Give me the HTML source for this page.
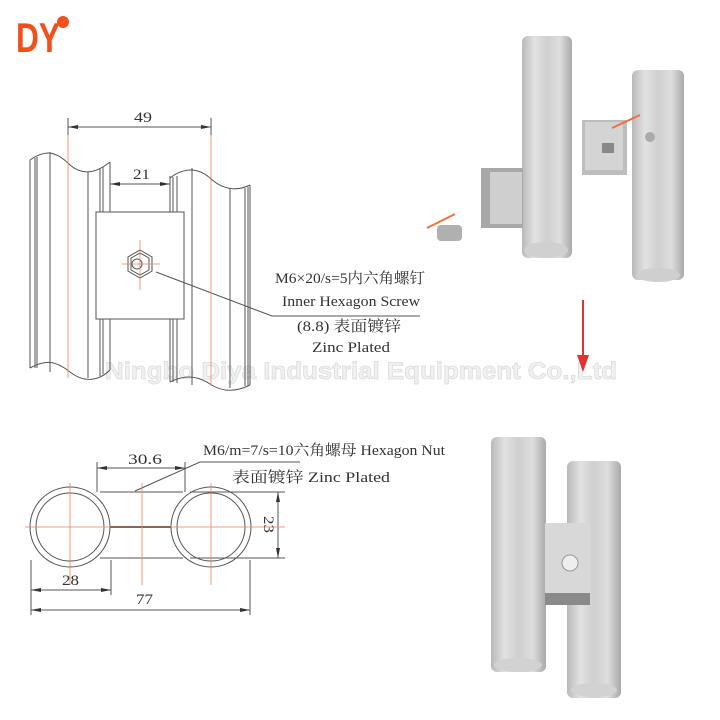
<!DOCTYPE html>
<html><head><meta charset="utf-8"><style>
html,body{margin:0;padding:0;background:#fff;}
svg{display:block;}
text{font-family:"Liberation Serif","Noto Serif CJK SC","Noto Sans CJK SC",serif;fill:#333;}
</style></head><body>
<svg width="720" height="720" viewBox="0 0 720 720" xmlns="http://www.w3.org/2000/svg">
<defs>
<linearGradient id="tube" x1="0" x2="1" y1="0" y2="0">
<stop offset="0" stop-color="#b9b9b9"/><stop offset="0.25" stop-color="#e2e2e2"/><stop offset="0.5" stop-color="#cfcfcf"/><stop offset="0.75" stop-color="#dedede"/><stop offset="1" stop-color="#a9a9a9"/>
</linearGradient>
<marker id="ar" markerWidth="10" markerHeight="6" refX="10" refY="3" orient="auto-start-reverse"><path d="M0,1 L10,3 L0,5 Z" fill="#333"/></marker>
</defs>

<!-- logo -->
<text x="16" y="52" font-weight="bold" font-size="42" style="fill:#f2501a;font-family:'Liberation Sans',sans-serif" textLength="44" lengthAdjust="spacingAndGlyphs">DY</text>
<circle cx="63" cy="22" r="6" fill="#f2501a"/>

<!-- watermark -->
<text x="105" y="379" font-size="24" font-weight="bold" style="fill:#f1f1f1;stroke:#dcdcdc;stroke-width:0.8;font-family:'Liberation Sans',sans-serif" textLength="512" lengthAdjust="spacingAndGlyphs">Ningbo Diya Industrial Equipment Co.,Ltd</text>

<g fill="none" stroke="#555" stroke-width="1">
<path d="M30,160 C45,150 55,150 70,165 C85,178 100,170 110,162"/>
<path d="M30,160 V368 M35,158 V368 M37,157 V368 M50,152 V372 M88,172 V378 M100,168 V376 M103,167 V374 M110,162 V370"/>
<path d="M30,368 C45,360 55,360 70,372 C85,384 100,380 110,370"/>
<path d="M170,178 C180,170 195,165 210,178 C225,192 240,190 250,185"/>
<path d="M170,178 V382 M173,177 V382 M177,176 V383 M192,168 V385 M230,188 V388 M245,188 V386 M248,187 V386 M250,185 V385"/>
<path d="M170,382 C182,376 195,374 210,384 C225,394 240,390 250,385"/>
<rect x="96" y="212" width="88" height="107" fill="#fff"/>
<polygon points="140,250 152,257 152,271 140,278 128,271 128,257"/>
<polygon points="140,253 149,258 149,270 140,275 131,270 131,258"/>
<circle cx="137" cy="264" r="5"/>
<path d="M156,272 L272,316 H420"/>
<path d="M68,118 V135 M211,118 V135 M110,176 V188 M170,176 V188"/>
<path d="M68,127 H211" marker-start="url(#ar)" marker-end="url(#ar)"/>
<path d="M110,184 H170" marker-start="url(#ar)" marker-end="url(#ar)"/>
</g>
<g stroke="#f08060" stroke-width="0.8">
<path d="M68,135 V378 M211,135 V386 M140,240 V290 M122,264 H160"/>
</g>
<text x="134" y="122" font-size="15" textLength="18" lengthAdjust="spacingAndGlyphs">49</text>
<text x="133" y="179" font-size="15" textLength="17" lengthAdjust="spacingAndGlyphs">21</text>
<text x="275" y="283" font-size="15" textLength="150" lengthAdjust="spacingAndGlyphs">M6×20/s=5内六角螺钉</text>
<text x="282" y="306" font-size="15" textLength="138" lengthAdjust="spacingAndGlyphs">Inner Hexagon Screw</text>
<text x="297" y="331" font-size="15" textLength="104" lengthAdjust="spacingAndGlyphs">(8.8) 表面镀锌</text>
<text x="312" y="352" font-size="15" textLength="78" lengthAdjust="spacingAndGlyphs">Zinc Plated</text>

<g fill="none" stroke="#555" stroke-width="1">
<path d="M100,492 H183 M100,558 H183"/>
<path d="M110,527 H172" stroke-width="2"/>
<circle cx="70" cy="527" r="40" fill="#fff"/>
<circle cx="70" cy="527" r="34"/>
<circle cx="211" cy="527" r="40" fill="#fff"/>
<circle cx="211" cy="527" r="34"/>
<path d="M97,462 V492 M185,462 V492 M190,492 H285 M190,558 H285 M31,560 V615 M111,560 V595 M250,560 V615"/>
<path d="M97,468 H185" marker-start="url(#ar)" marker-end="url(#ar)"/>
<path d="M278,492 V558" marker-start="url(#ar)" marker-end="url(#ar)"/>
<path d="M31,590 H111" marker-start="url(#ar)" marker-end="url(#ar)"/>
<path d="M31,610 H250" marker-start="url(#ar)" marker-end="url(#ar)"/>
<path d="M135,491 L200,462 H300"/>
</g>
<g stroke="#f08060" stroke-width="0.8">
<path d="M25,527 H285 M70,483 V585 M211,483 V585 M142,483 V585"/>
</g>
<text x="128" y="464" font-size="15" textLength="34" lengthAdjust="spacingAndGlyphs">30.6</text>
<text x="62" y="585" font-size="15" textLength="17" lengthAdjust="spacingAndGlyphs">28</text>
<text x="136" y="604" font-size="15" textLength="17" lengthAdjust="spacingAndGlyphs">77</text>
<text x="0" y="0" font-size="15" transform="translate(264,516) rotate(90)" textLength="17" lengthAdjust="spacingAndGlyphs">23</text>
<text x="203" y="455" font-size="15" textLength="242" lengthAdjust="spacingAndGlyphs">M6/m=7/s=10六角螺母  Hexagon Nut</text>
<text x="232" y="482" font-size="15" textLength="158" lengthAdjust="spacingAndGlyphs">表面镀锌  Zinc Plated</text>

<rect x="522" y="36" width="50" height="222" rx="6" fill="url(#tube)"/>
<ellipse cx="546" cy="250" rx="22" ry="8" fill="#d0d0d0"/>
<rect x="481" y="168" width="42" height="60" fill="#a8a8a8"/>
<rect x="490" y="172" width="32" height="52" fill="#cfcfcf"/>
<rect x="582" y="120" width="45" height="55" fill="#bdbdbd"/>
<rect x="585" y="122" width="38" height="48" fill="#d4d4d4"/>
<rect x="602" y="143" width="12" height="10" fill="#888"/>
<rect x="632" y="70" width="52" height="210" rx="6" fill="url(#tube)"/>
<ellipse cx="658" cy="275" rx="22" ry="7" fill="#cfcfcf"/>
<circle cx="650" cy="137" r="5" fill="#aaa"/>
<rect x="437" y="225" width="25" height="16" rx="4" fill="#b0b0b0"/>
<path d="M427,228 L455,214" stroke="#f07040" stroke-width="2"/>
<path d="M640,115 L612,128" stroke="#f07040" stroke-width="2"/>
<path d="M583,300 V362" stroke="#e43030" stroke-width="2"/>
<polygon points="577,355 589,355 583,372" fill="#e43030"/>

<rect x="491" y="437" width="55" height="235" rx="6" fill="url(#tube)"/>
<ellipse cx="518" cy="665" rx="24" ry="7" fill="#d2d2d2"/>
<rect x="567" y="461" width="54" height="237" rx="6" fill="url(#tube)"/>
<ellipse cx="594" cy="690" rx="23" ry="7" fill="#d2d2d2"/>
<rect x="545" y="523" width="45" height="70" fill="#d8d8d8"/>
<rect x="545" y="593" width="45" height="12" fill="#8a8a8a"/>
<circle cx="570" cy="563" r="8" fill="#eee" stroke="#999"/>
</svg>
</body></html>
